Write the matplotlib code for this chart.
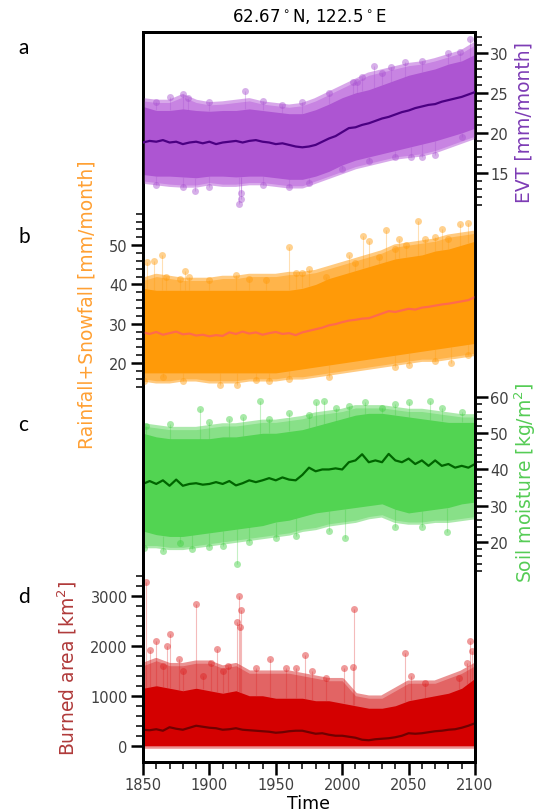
"""
Four stacked monthly series at 62.67N, 122.5E (1850-2100), drawn on
overlapping twin axes with alternating left/right y scales.
"""

import numpy as np
import matplotlib
matplotlib.use("Agg")
import matplotlib.pyplot as plt
from matplotlib.ticker import FixedLocator

# ---------------------------------------------------------------- data
decades = list(range(1850, 2101, 10))
years5 = list(range(1850, 2101, 5))

# a: EVT [mm/month]
evt_mean = [18.8, 19.0, 18.9, 19.1, 18.8, 18.9, 18.6, 18.8, 18.9, 18.7, 18.9,
            18.6, 18.8, 18.9, 19.0, 18.8, 19.0, 19.1, 18.9, 18.8, 18.6, 18.7,
            18.5, 18.3, 18.2, 18.3, 18.5, 18.9, 19.3, 19.6, 20.1, 20.6, 20.7,
            21.0, 21.2, 21.5, 21.8, 22.0, 22.3, 22.6, 22.8, 23.1, 23.3, 23.5,
            23.6, 23.9, 24.1, 24.3, 24.5, 24.8, 25.1]
evt_hi = [23.3, 22.8, 22.8, 23.0, 22.8, 22.7, 22.8, 22.8, 23.0, 22.8, 22.6,
          22.4, 22.4, 22.9, 23.6, 24.4, 25.0, 25.4, 26.0, 26.6, 27.2, 27.6,
          28.0, 28.6, 29.0, 29.8]
evt_lo = [14.8, 14.6, 14.6, 14.5, 14.4, 14.6, 14.6, 14.5, 14.6, 14.6, 14.4,
          14.2, 14.2, 14.6, 15.2, 16.0, 16.6, 17.0, 17.4, 17.8, 18.2, 18.6,
          19.0, 19.5, 20.0, 20.6]
evt_hi_out = [24.0, 23.8, 23.8, 24.5, 23.8, 23.5, 23.6, 23.8, 24.0, 23.6, 23.4,
              23.2, 23.4, 24.0, 24.8, 25.6, 26.4, 27.2, 27.6, 28.0, 28.4, 28.6,
              29.0, 29.5, 30.0, 31.0]
evt_lo_out = [14.0, 13.8, 13.6, 13.5, 13.5, 13.8, 13.6, 13.6, 13.8, 13.8, 13.6,
              13.4, 13.4, 14.0, 14.6, 15.2, 15.8, 16.2, 16.6, 17.0, 17.2, 17.4,
              17.8, 18.4, 19.0, 19.6]
evt_out_yr = [1880, 1884, 1927, 2008, 2011, 2024, 2037, 2047, 2089, 2096,
              1880, 1889, 1924, 1924, 1922, 2052, 2060, 2070,
              1860, 1870, 1900, 1940, 1955, 1970, 1990, 2015, 2030, 2060, 2080,
              1860, 1900, 1940, 1960, 1975, 2000, 2020, 2040, 2090]
evt_out_val = [24.8, 24.3, 25.2, 26.4, 26.4, 28.3, 28.2, 28.9, 30.1, 31.7,
               13.2, 12.7, 12.5, 11.8, 11.1, 17.0, 17.0, 17.2,
               23.8, 24.5, 23.8, 24.0, 23.5, 23.8, 25.0, 27.0, 27.5, 29.0, 30.0,
               13.5, 13.2, 13.5, 13.3, 13.8, 15.5, 16.5, 17.0, 19.5]

# b: Rainfall+Snowfall [mm/month]
rain_mean = [27.8, 27.4, 27.9, 27.2, 27.6, 28.0, 27.3, 27.5, 27.0, 27.2, 26.8,
             27.1, 26.9, 27.8, 27.4, 28.0, 27.5, 27.8, 27.2, 27.6, 27.9, 27.4,
             27.6, 27.1, 27.8, 28.2, 28.6, 29.0, 29.6, 29.9, 30.4, 30.8, 31.0,
             31.3, 31.4, 32.0, 32.6, 33.2, 33.0, 33.4, 33.8, 33.6, 34.1, 34.3,
             34.6, 34.9, 35.1, 35.4, 35.7, 36.0, 36.8]
rain_hi = [39.0, 38.5, 38.5, 38.5, 38.5, 38.5, 38.5, 38.5, 38.5, 38.5, 38.5,
           38.5, 39.0, 40.0, 41.5, 42.5, 43.5, 44.5, 45.5, 46.5, 47.0, 47.5,
           48.5, 49.0, 50.0, 51.0]
rain_lo = [17.5, 17.5, 17.5, 17.5, 17.5, 17.5, 17.5, 17.5, 17.5, 17.5, 17.5,
           18.0, 18.5, 19.0, 19.5, 20.0, 20.5, 21.0, 21.5, 22.0, 22.5, 23.0,
           23.5, 24.0, 24.5, 25.0]
rain_hi_out = [41.0, 42.0, 41.5, 41.0, 41.0, 41.0, 41.5, 41.5, 42.0, 42.0, 42.0,
               42.5, 42.5, 43.0, 44.0, 45.0, 46.0, 47.0, 48.0, 49.5, 50.0, 50.5,
               51.0, 52.0, 52.5, 53.0]
rain_lo_out = [16.0, 15.5, 15.5, 16.0, 16.0, 15.5, 15.5, 15.5, 16.0, 16.0, 16.0,
               16.5, 16.5, 17.0, 17.5, 18.0, 18.5, 19.0, 19.5, 20.0, 20.5, 21.0,
               21.0, 21.5, 22.0, 22.5]
rain_out_yr = [1853, 1858, 1864, 1882, 1960, 1965, 2016, 2020, 2033, 2043, 2057,
               2062, 2075, 2089, 2095, 1851, 1865, 1908, 1921, 1990, 2050, 2082,
               1867, 1878, 1885, 1900, 1920, 1930, 1943, 1970, 1975, 1988, 2005,
               2010, 2028, 2040, 2048, 2070, 2080,
               1880, 1935, 1945, 1960, 2040, 2070, 2095]
rain_out_val = [45.6, 46.0, 47.5, 43.5, 49.4, 43.0, 52.4, 51.0, 53.9, 51.5, 56.2,
                51.5, 54.0, 55.3, 55.5, 15.5, 16.5, 14.5, 14.5, 16.5, 19.5, 20.0,
                42.0, 41.5, 42.0, 41.0, 42.5, 41.5, 41.0, 43.0, 44.0, 42.0, 47.5,
                45.5, 47.0, 49.0, 50.0, 52.0, 51.5,
                15.5, 15.8, 15.5, 16.0, 19.0, 20.5, 22.0]

# c: Soil moisture [kg/m2]
soil_mean = [36.0, 36.8, 36.0, 37.0, 35.5, 37.2, 35.5, 36.0, 36.2, 35.8, 36.0,
             36.5, 36.0, 36.8, 35.6, 36.2, 37.0, 36.5, 37.0, 37.6, 37.0, 37.8,
             37.2, 37.0, 38.5, 40.5, 39.5, 40.0, 40.0, 40.3, 40.0, 42.0, 42.5,
             44.2, 42.0, 42.5, 42.0, 44.3, 42.5, 42.0, 43.0, 41.5, 42.5, 41.0,
             42.5, 41.0, 41.5, 40.5, 41.0, 40.5, 41.5]
soil_hi = [50.0, 49.0, 48.5, 48.5, 48.5, 48.5, 49.0, 49.0, 49.5, 50.0, 50.0,
           50.5, 51.0, 52.0, 53.0, 54.0, 55.0, 55.5, 55.5, 55.0, 54.5, 54.0,
           53.5, 53.0, 53.0, 53.0]
soil_lo = [23.0, 22.0, 21.5, 21.5, 22.0, 22.5, 23.0, 23.5, 24.0, 24.5, 25.5,
           26.0, 27.0, 28.0, 28.5, 29.0, 29.5, 30.0, 30.5, 29.0, 28.0, 28.5,
           29.0, 29.5, 30.5, 31.0]
soil_hi_out = [52.0, 51.5, 51.0, 51.0, 51.0, 51.5, 52.0, 52.0, 52.5, 53.0, 53.0,
               53.5, 54.0, 55.0, 55.5, 56.0, 57.0, 57.0, 57.0, 56.5, 56.0, 56.0,
               55.5, 55.0, 54.5, 54.5]
soil_lo_out = [19.0, 19.0, 18.5, 18.5, 19.0, 19.5, 20.0, 20.5, 21.0, 21.5, 22.0,
               22.5, 23.5, 24.0, 25.0, 25.5, 26.0, 27.0, 27.5, 26.0, 25.5, 25.5,
               26.0, 26.0, 26.5, 27.0]
soil_out_yr = [1852, 1893, 1938, 1960, 1980, 1986, 2017, 2030, 2050, 2066,
               1851, 1878, 1887, 1921, 2002, 2079,
               1870, 1900, 1915, 1925, 1945, 1975, 1995, 2005, 2040, 2075, 2090,
               1865, 1900, 1910, 1930, 1950, 1965, 1990, 2040, 2060]
soil_out_val = [52.0, 56.7, 58.9, 55.7, 58.5, 58.9, 58.5, 57.0, 58.7, 58.9,
                18.4, 19.8, 18.0, 13.8, 21.2, 22.6,
                52.5, 53.0, 54.0, 54.5, 54.0, 55.0, 57.0, 57.5, 58.0, 57.0, 56.0,
                17.5, 18.5, 19.0, 20.0, 21.0, 21.5, 23.0, 24.0, 24.0]

# d: Burned area [km2]
burn_mean = [320, 310, 330, 300, 370, 340, 320, 360, 400, 380, 360, 350, 320,
             330, 350, 320, 310, 300, 290, 280, 260, 270, 290, 300, 300, 270,
             240, 250, 220, 200, 200, 180, 160, 120, 110, 130, 140, 150, 170,
             200, 250, 240, 250, 270, 290, 300, 320, 330, 360, 400, 450]
burn_hi = [1150, 1200, 1150, 1100, 1150, 1100, 1050, 1100, 1000, 1000, 950,
           950, 950, 900, 900, 850, 800, 750, 750, 800, 900, 950, 1000, 1050,
           1150, 1350]
burn_hi_out = [1600, 1700, 1600, 1600, 1650, 1650, 1550, 1600, 1450, 1450, 1450,
               1450, 1400, 1350, 1300, 1300, 1000, 950, 950, 1100, 1250, 1250,
               1250, 1350, 1450, 1600]
burn_out_yr = [1852, 1855, 1860, 1870, 1877, 1890, 1906, 1921, 1922, 1923, 1924,
               1946, 1972, 2009, 2047, 2096, 2098,
               1865, 1868, 1880, 1895, 1901, 1910, 1914, 1935, 1958, 1965, 1977,
               1988, 2001, 2008, 2052, 2062, 2088, 2094]
burn_out_val = [3280, 1920, 2100, 2233, 1740, 2834, 1927, 2467, 2987, 2367, 2720,
                1734, 1813, 2734, 1854, 2087, 1900,
                1600, 2000, 1500, 1400, 1650, 1500, 1600, 1550, 1550, 1550, 1500,
                1350, 1550, 1580, 1400, 1250, 1350, 1650]

# ---------------------------------------------------------------- figure
fig = plt.figure(figsize=(5.41, 8.12), dpi=100)
ax_d = fig.add_axes([0.2643, 0.0603, 0.6137, 0.8990])
ax_c = ax_d.twinx()
ax_b = ax_d.twinx()
ax_a = ax_d.twinx()
ax_b.yaxis.tick_left()
ax_b.yaxis.set_label_position("left")


def draw_panel(ax, mean, lo, hi, lo_out, hi_out, out_yr, out_val,
               c_in, c_out, c_pts, c_line):
    ax.fill_between(decades, lo_out, hi_out, color=c_out, lw=0, zorder=1)
    ax.plot(decades, hi_out, color=c_out, lw=4, alpha=0.7, zorder=1)
    ax.plot(decades, lo_out, color=c_out, lw=4, alpha=0.7, zorder=1)
    ax.fill_between(decades, lo, hi, color=c_in, lw=0, zorder=2)
    base = np.interp(out_yr, decades, hi)
    base_lo = np.interp(out_yr, decades, lo)
    base = np.where(np.array(out_val) > base, base, base_lo)
    ax.vlines(out_yr, base, out_val, color=c_pts, lw=0.8, alpha=0.3, zorder=2)
    ax.plot(out_yr, out_val, "o", ms=5, color=c_pts, alpha=0.45,
            mec="none", zorder=3)
    ax.plot(years5, mean, color=c_line, lw=1.6, zorder=4)


draw_panel(ax_a, evt_mean, evt_lo, evt_hi, evt_lo_out, evt_hi_out,
           evt_out_yr, evt_out_val, "#ad55d2", "#c884e2", "#a64fcf", "#4b0082")
draw_panel(ax_b, rain_mean, rain_lo, rain_hi, rain_lo_out, rain_hi_out,
           rain_out_yr, rain_out_val, "#ff9a08", "#ffb44a", "#ff9a08", "#ff6a4d")
draw_panel(ax_c, soil_mean, soil_lo, soil_hi, soil_lo_out, soil_hi_out,
           soil_out_yr, soil_out_val, "#52d452", "#88e088", "#3fcf3f", "#006400")
draw_panel(ax_d, burn_mean, [0] * len(decades), burn_hi, [0] * len(decades),
           burn_hi_out, burn_out_yr, burn_out_val,
           "#d40000", "#e26464", "#dd2020", "#700000")

# ---------------------------------------------------------------- axes
ax_d.set_xlim(1850, 2100)
ax_a.set_ylim(-58.6, 32.6)
ax_b.set_ylim(-81.5, 104.2)
ax_c.set_ylim(-40.8, 160.8)
ax_d.set_ylim(-326, 14274)

ax_a.yaxis.set_major_locator(FixedLocator([15, 20, 25, 30]))
ax_a.yaxis.set_minor_locator(FixedLocator(range(11, 33)))
ax_b.yaxis.set_major_locator(FixedLocator([20, 30, 40, 50]))
ax_b.yaxis.set_minor_locator(FixedLocator(range(14, 59, 2)))
ax_c.yaxis.set_major_locator(FixedLocator([20, 30, 40, 50, 60]))
ax_c.yaxis.set_minor_locator(FixedLocator(range(12, 61, 2)))
ax_d.yaxis.set_major_locator(FixedLocator([0, 1000, 2000, 3000]))
ax_d.yaxis.set_minor_locator(FixedLocator(range(0, 3401, 200)))
ax_d.xaxis.set_major_locator(FixedLocator(range(1850, 2101, 50)))
ax_d.xaxis.set_minor_locator(FixedLocator(range(1850, 2101, 10)))

for ax in (ax_a, ax_b, ax_c, ax_d):
    ax.tick_params(which="major", length=9, width=1.8, labelsize=10.5,
                   labelcolor="#404040", pad=2)
    ax.tick_params(which="minor", length=5, width=1.1)
    for sp in ax.spines.values():
        sp.set_linewidth(1.8)

ax_a.set_ylabel("EVT [mm/month]", color="#7d3cb5", fontsize=13.5)
ax_b.set_ylabel("Rainfall+Snowfall [mm/month]", color="#ffa033", fontsize=13.5)
ax_c.set_ylabel(r"Soil moisture [kg/m$^2$]", color="#55cc55", fontsize=13.5)
ax_d.set_ylabel(r"Burned area [km$^2$]", color="#b03a3a", fontsize=13.5)
ax_a.yaxis.set_label_coords(1.12, 0.877)
ax_b.yaxis.set_label_coords(-0.14, 0.628)
ax_c.yaxis.set_label_coords(1.112, 0.384)
ax_d.yaxis.set_label_coords(-0.193, 0.13)

ax_d.set_xlabel("Time", fontsize=12.5, labelpad=1)
ax_d.set_title(r"62.67$^\circ$N, 122.5$^\circ$E", fontsize=12, pad=8)

for letter, ypix in zip("abcd", [48, 237, 425, 597]):
    fig.text(18 / 541, 1 - ypix / 812, letter, fontsize=15, family="Lato",
             va="center", ha="left")

fig.savefig("out.png", dpi=100)
